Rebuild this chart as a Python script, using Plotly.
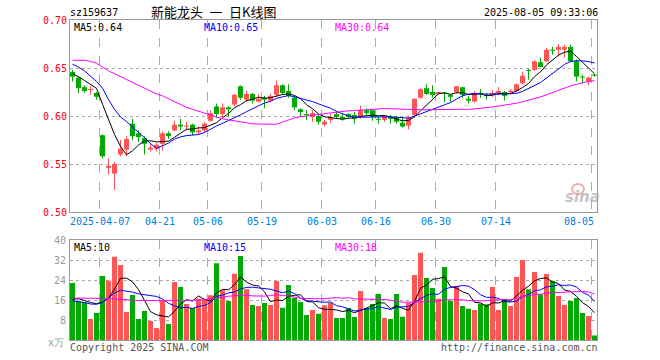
import pandas as pd
import plotly.graph_objects as go

# ---------------- data ----------------
holidays = ["2025-04-04", "2025-05-01", "2025-05-02", "2025-05-05", "2025-06-02"]
dates = [d.strftime("%Y-%m-%d") for d in pd.bdate_range("2025-03-28", "2025-08-05")
         if d.strftime("%Y-%m-%d") not in holidays]

opens = [0.646, 0.640, 0.630, 0.627, 0.624, 0.580, 0.546, 0.540, 0.560, 0.565,
         0.592, 0.582, 0.577, 0.565, 0.566, 0.571, 0.582, 0.585, 0.591, 0.589,
         0.591, 0.583, 0.585, 0.595, 0.610, 0.602, 0.609, 0.612, 0.631, 0.617,
         0.623, 0.615, 0.619, 0.616, 0.622, 0.632, 0.626, 0.619, 0.607, 0.602,
         0.599, 0.600, 0.591, 0.596, 0.602, 0.599, 0.602, 0.601, 0.599, 0.606,
         0.606, 0.597, 0.596, 0.599, 0.599, 0.593, 0.590, 0.601, 0.619, 0.629,
         0.625, 0.623, 0.624, 0.622, 0.625, 0.630, 0.618, 0.615, 0.624, 0.622,
         0.622, 0.624, 0.625, 0.625, 0.626, 0.634, 0.648, 0.648, 0.656, 0.657,
         0.669, 0.669, 0.669, 0.672, 0.657, 0.641, 0.636, 0.643]
closes = [0.641, 0.629, 0.626, 0.628, 0.620, 0.558, 0.548, 0.550, 0.566, 0.576,
          0.579, 0.578, 0.571, 0.567, 0.570, 0.582, 0.579, 0.591, 0.589, 0.590,
          0.583, 0.585, 0.592, 0.603, 0.602, 0.609, 0.607, 0.622, 0.619, 0.623,
          0.616, 0.618, 0.617, 0.621, 0.632, 0.624, 0.621, 0.609, 0.604, 0.601,
          0.603, 0.594, 0.594, 0.599, 0.599, 0.597, 0.599, 0.597, 0.606, 0.603,
          0.599, 0.596, 0.599, 0.597, 0.594, 0.589, 0.598, 0.618, 0.628, 0.623,
          0.622, 0.625, 0.623, 0.620, 0.631, 0.622, 0.616, 0.624, 0.623, 0.621,
          0.624, 0.626, 0.621, 0.626, 0.633, 0.642, 0.647, 0.657, 0.651, 0.669,
          0.668, 0.672, 0.672, 0.657, 0.641, 0.640, 0.640, 0.642]
highs = [0.648, 0.641, 0.632, 0.631, 0.625, 0.581, 0.556, 0.552, 0.575, 0.579,
         0.597, 0.585, 0.579, 0.571, 0.572, 0.584, 0.584, 0.595, 0.597, 0.594,
         0.592, 0.589, 0.594, 0.606, 0.613, 0.613, 0.610, 0.623, 0.632, 0.626,
         0.624, 0.623, 0.621, 0.623, 0.637, 0.633, 0.633, 0.621, 0.608, 0.606,
         0.606, 0.602, 0.596, 0.602, 0.605, 0.603, 0.603, 0.604, 0.611, 0.608,
         0.606, 0.599, 0.601, 0.601, 0.600, 0.599, 0.600, 0.618, 0.629, 0.633,
         0.632, 0.625, 0.625, 0.623, 0.631, 0.630, 0.621, 0.626, 0.628, 0.624,
         0.627, 0.630, 0.626, 0.628, 0.634, 0.646, 0.649, 0.658, 0.661, 0.671,
         0.672, 0.675, 0.674, 0.674, 0.659, 0.643, 0.641, 0.644]
lows = [0.636, 0.624, 0.624, 0.622, 0.617, 0.556, 0.539, 0.523, 0.558, 0.558,
        0.575, 0.573, 0.560, 0.563, 0.563, 0.564, 0.576, 0.584, 0.585, 0.585,
        0.580, 0.580, 0.583, 0.594, 0.598, 0.599, 0.599, 0.610, 0.617, 0.615,
        0.613, 0.614, 0.608, 0.614, 0.620, 0.622, 0.619, 0.606, 0.599, 0.596,
        0.594, 0.591, 0.589, 0.593, 0.597, 0.595, 0.598, 0.592, 0.597, 0.601,
        0.595, 0.592, 0.594, 0.592, 0.592, 0.588, 0.586, 0.599, 0.618, 0.622,
        0.619, 0.622, 0.614, 0.615, 0.623, 0.619, 0.613, 0.614, 0.619, 0.617,
        0.620, 0.622, 0.616, 0.622, 0.625, 0.633, 0.638, 0.647, 0.651, 0.656,
        0.664, 0.662, 0.661, 0.656, 0.636, 0.634, 0.632, 0.641]
volumes = [22.8, 15.5, 15.2, 8.4, 10.8, 25.6, 23.7, 33.3, 30.0, 11.2,
           18.0, 8.4, 11.6, 7.6, 4.8, 15.6, 6.4, 23.2, 21.2, 14.4,
           12.8, 16.5, 16.3, 17.9, 30.7, 19.9, 15.6, 26.5, 33.6, 20.3,
           14.0, 13.6, 14.8, 14.0, 23.6, 12.9, 22.0, 16.9, 15.2, 10.0,
           12.0, 10.5, 13.9, 14.9, 8.8, 8.8, 12.8, 9.2, 19.6, 12.8,
           14.4, 18.4, 8.8, 8.4, 18.4, 9.3, 14.9, 26.0, 34.9, 24.8,
           20.8, 16.5, 29.2, 15.6, 21.6, 13.6, 12.5, 12.0, 14.5, 14.3,
           21.2, 12.0, 16.5, 13.6, 25.2, 32.0, 20.3, 27.2, 18.3, 26.4,
           23.6, 17.6, 14.0, 15.6, 16.8, 10.8, 9.6, 1.8]

# moving-average values at the start of the window (read from the chart,
# they depend on sessions before the first visible candle)
ma5_head = [0.644, 0.641, 0.637, 0.633]
ma10_head = [0.654, 0.651, 0.647, 0.642, 0.636, 0.629, 0.617, 0.607, 0.599]
ma30_head = [0.658, 0.658, 0.658, 0.657, 0.655, 0.651, 0.647, 0.644, 0.641, 0.638,
             0.635, 0.632, 0.629, 0.626, 0.623, 0.621, 0.618, 0.615, 0.612, 0.609,
             0.607, 0.605, 0.603, 0.601, 0.599, 0.597, 0.596, 0.595, 0.594]
vma5_head = [16.3, 16.5, 15.8, 15.0]
vma10_head = [15.6, 15.4, 15.0, 14.4, 14.3, 15.0, 16.8, 18.8, 19.9]
vma30_head = [16.8, 16.8, 16.8, 16.8, 16.8, 16.8, 16.6, 16.4, 16.2, 16.0,
              15.8, 15.8, 15.8, 15.8, 15.8, 15.8, 15.8, 15.8, 15.8, 15.8,
              15.8, 15.9, 16.2, 16.6, 17.0, 17.3, 17.5, 17.7, 17.9]

tick_dates = ["2025-04-07", "2025-04-21", "2025-05-06", "2025-05-19", "2025-06-03",
              "2025-06-16", "2025-06-30", "2025-07-14", "2025-08-05"]
tick_labels = ["2025-04-07", "04-21", "05-06", "05-19", "06-03", "06-16", "06-30", "07-14", "08-05"]
price_ticks = [0.70, 0.65, 0.60, 0.55, 0.50]
vol_ticks = [40, 32, 24, 16, 8]

code = "sz159637"
title = "新能龙头\u2002一\u2002日K线图"
stamp = "2025-08-05 09:33:06"
price_ma_labels = ["MA5:0.64", "MA10:0.65", "MA30:0.64"]
vol_ma_labels = ["MA5:10", "MA10:15", "MA30:18"]
unit_label = "x万"

# ---------------- helpers ----------------
W, H = 660, 360
RED, GREEN = "#ff5555", "#00aa00"
MONO = "DejaVu Sans Mono"


def mavg(vals, w, head):
    s = pd.Series(vals, dtype=float).rolling(w).mean().tolist()
    return list(head) + s[len(head):]


def fx(p):
    return p / W


def fy(p):
    return 1 - p / H


n = len(closes)
idx = list(range(n))
cols = [RED if c >= o else GREEN for o, c in zip(opens, closes)]
bottoms = [min(o, c) for o, c in zip(opens, closes)]
heights = [max(abs(c - o), 0.0011) for o, c in zip(opens, closes)]

fig = go.Figure()

# wicks
for colr in (RED, GREEN):
    xs, ys = [], []
    for i in idx:
        if cols[i] == colr:
            xs += [i, i, None]
            ys += [lows[i], highs[i], None]
    fig.add_trace(go.Scatter(x=xs, y=ys, mode="lines", line=dict(color=colr, width=1),
                             xaxis="x", yaxis="y", hoverinfo="skip"))
# bodies
fig.add_trace(go.Bar(x=idx, y=heights, base=bottoms, width=0.83,
                     marker=dict(color=cols, line=dict(width=0)), xaxis="x", yaxis="y"))

# price MAs
for vals, colr in ((mavg(closes, 5, ma5_head), "#000000"),
                   (mavg(closes, 10, ma10_head), "#0000ff"),
                   (mavg(closes, 30, ma30_head), "#ff00ff")):
    fig.add_trace(go.Scatter(x=idx, y=vals, mode="lines", line=dict(color=colr, width=1),
                             xaxis="x", yaxis="y"))

# volume
fig.add_trace(go.Bar(x=idx, y=volumes, width=0.83,
                     marker=dict(color=cols, line=dict(width=0)), xaxis="x2", yaxis="y2"))
for vals, colr in ((mavg(volumes, 5, vma5_head), "#000000"),
                   (mavg(volumes, 10, vma10_head), "#0000ff"),
                   (mavg(volumes, 30, vma30_head), "#ff00ff")):
    fig.add_trace(go.Scatter(x=idx, y=vals, mode="lines", line=dict(color=colr, width=1),
                             xaxis="x2", yaxis="y2"))

grid_x = [dates.index(d) - 0.42 for d in tick_dates]
xr = [-0.4167, 87.4167]
axis_common = dict(showline=True, mirror=True, linecolor="#999999", linewidth=1,
                   zeroline=False, ticks="", showticklabels=False, fixedrange=True)

fig.update_layout(
    width=W, height=H, margin=dict(l=0, r=0, t=0, b=0),
    paper_bgcolor="white", plot_bgcolor="white", showlegend=False,
    barmode="overlay", hovermode=False,
    xaxis=dict(domain=[fx(70), fx(597)], range=xr, anchor="y", tickvals=grid_x,
               showgrid=True, gridcolor="#aaaaaa", griddash="dash", gridwidth=1, **axis_common),
    yaxis=dict(domain=[fy(212), fy(20)], range=[0.5, 0.7], anchor="x", tickvals=[0.55, 0.60, 0.65],
               showgrid=True, gridcolor="#aaaaaa", griddash="dot", gridwidth=1, **axis_common),
    xaxis2=dict(domain=[fx(70), fx(597)], range=xr, anchor="y2", tickvals=grid_x,
                showgrid=True, gridcolor="#aaaaaa", griddash="dash", gridwidth=1, **axis_common),
    yaxis2=dict(domain=[fy(340), fy(240)], range=[0, 40], anchor="x2", tickvals=[8, 16, 24, 32],
                showgrid=True, gridcolor="#aaaaaa", griddash="dot", gridwidth=1, **axis_common),
)

ann = []


def add(text, x, y, xanchor="left", color="#000000", size=10, family=MONO,
        xref="paper", yref="paper", yanchor="middle"):
    ann.append(dict(text=text, x=x, y=y, xref=xref, yref=yref, xanchor=xanchor,
                    yanchor=yanchor, showarrow=False, borderpad=0,
                    font=dict(family=family, size=size, color=color)))


# header
add(code, fx(69), fy(13), "left", "#000000", 10)
add(title, fx(213), fy(12), "center", "#000000", 13, "Noto Sans CJK SC")
add(stamp, fx(599), fy(13), "right", "#000000", 10)

# price axis labels
for v in price_ticks:
    add(f"{v:.2f}", fx(68), v, "right", "#ff0000", 10, yref="y")
# volume axis labels
for v in vol_ticks:
    add(str(v), fx(67), v, "right", "#999999", 10, yref="y2")
add(unit_label, fx(65), fy(342), "right", "#999999", 10)

# date labels
for k, (gx, lab) in enumerate(zip(grid_x, tick_labels)):
    if k == len(tick_labels) - 1:
        ann.append(dict(text=lab, x=gx, y=fy(221), xref="x", yref="paper", xanchor="right",
                        yanchor="middle", xshift=3, showarrow=False, borderpad=0,
                        font=dict(family=MONO, size=10, color="#0080dd")))
    else:
        add(lab, gx, fy(221), "center", "#0080dd", 10, xref="x")

# MA legends
for lab, xp, colr in zip(price_ma_labels, (73, 203, 334), ("#000000", "#0000ff", "#ff00ff")):
    add(lab, fx(xp), fy(27.5), "left", colr, 10)
for lab, xp, colr in zip(vol_ma_labels, (73, 203, 334), ("#000000", "#0000ff", "#ff00ff")):
    add(lab, fx(xp), fy(247), "left", colr, 10)

# footer
add("Copyright 2025 SINA.COM", fx(69), fy(347), "left", "#555555", 10)
add("http://finance.sina.com.cn", fx(599), fy(347), "right", "#555555", 10)

# watermark
add("<b><i>sina</i></b>", fx(582), fy(197), "center", "rgba(175,175,175,0.75)", 15, "DejaVu Sans")
fig.add_shape(type="circle", xref="paper", yref="paper",
              x0=fx(572), x1=fx(584), y0=fy(194), y1=fy(184),
              line=dict(color="rgba(235,140,140,0.7)", width=2))

fig.update_layout(annotations=ann)
fig.write_html("out.html", config={"displayModeBar": False, "staticPlot": True},
               post_script="document.body.style.margin='0';document.body.style.padding='0';")
